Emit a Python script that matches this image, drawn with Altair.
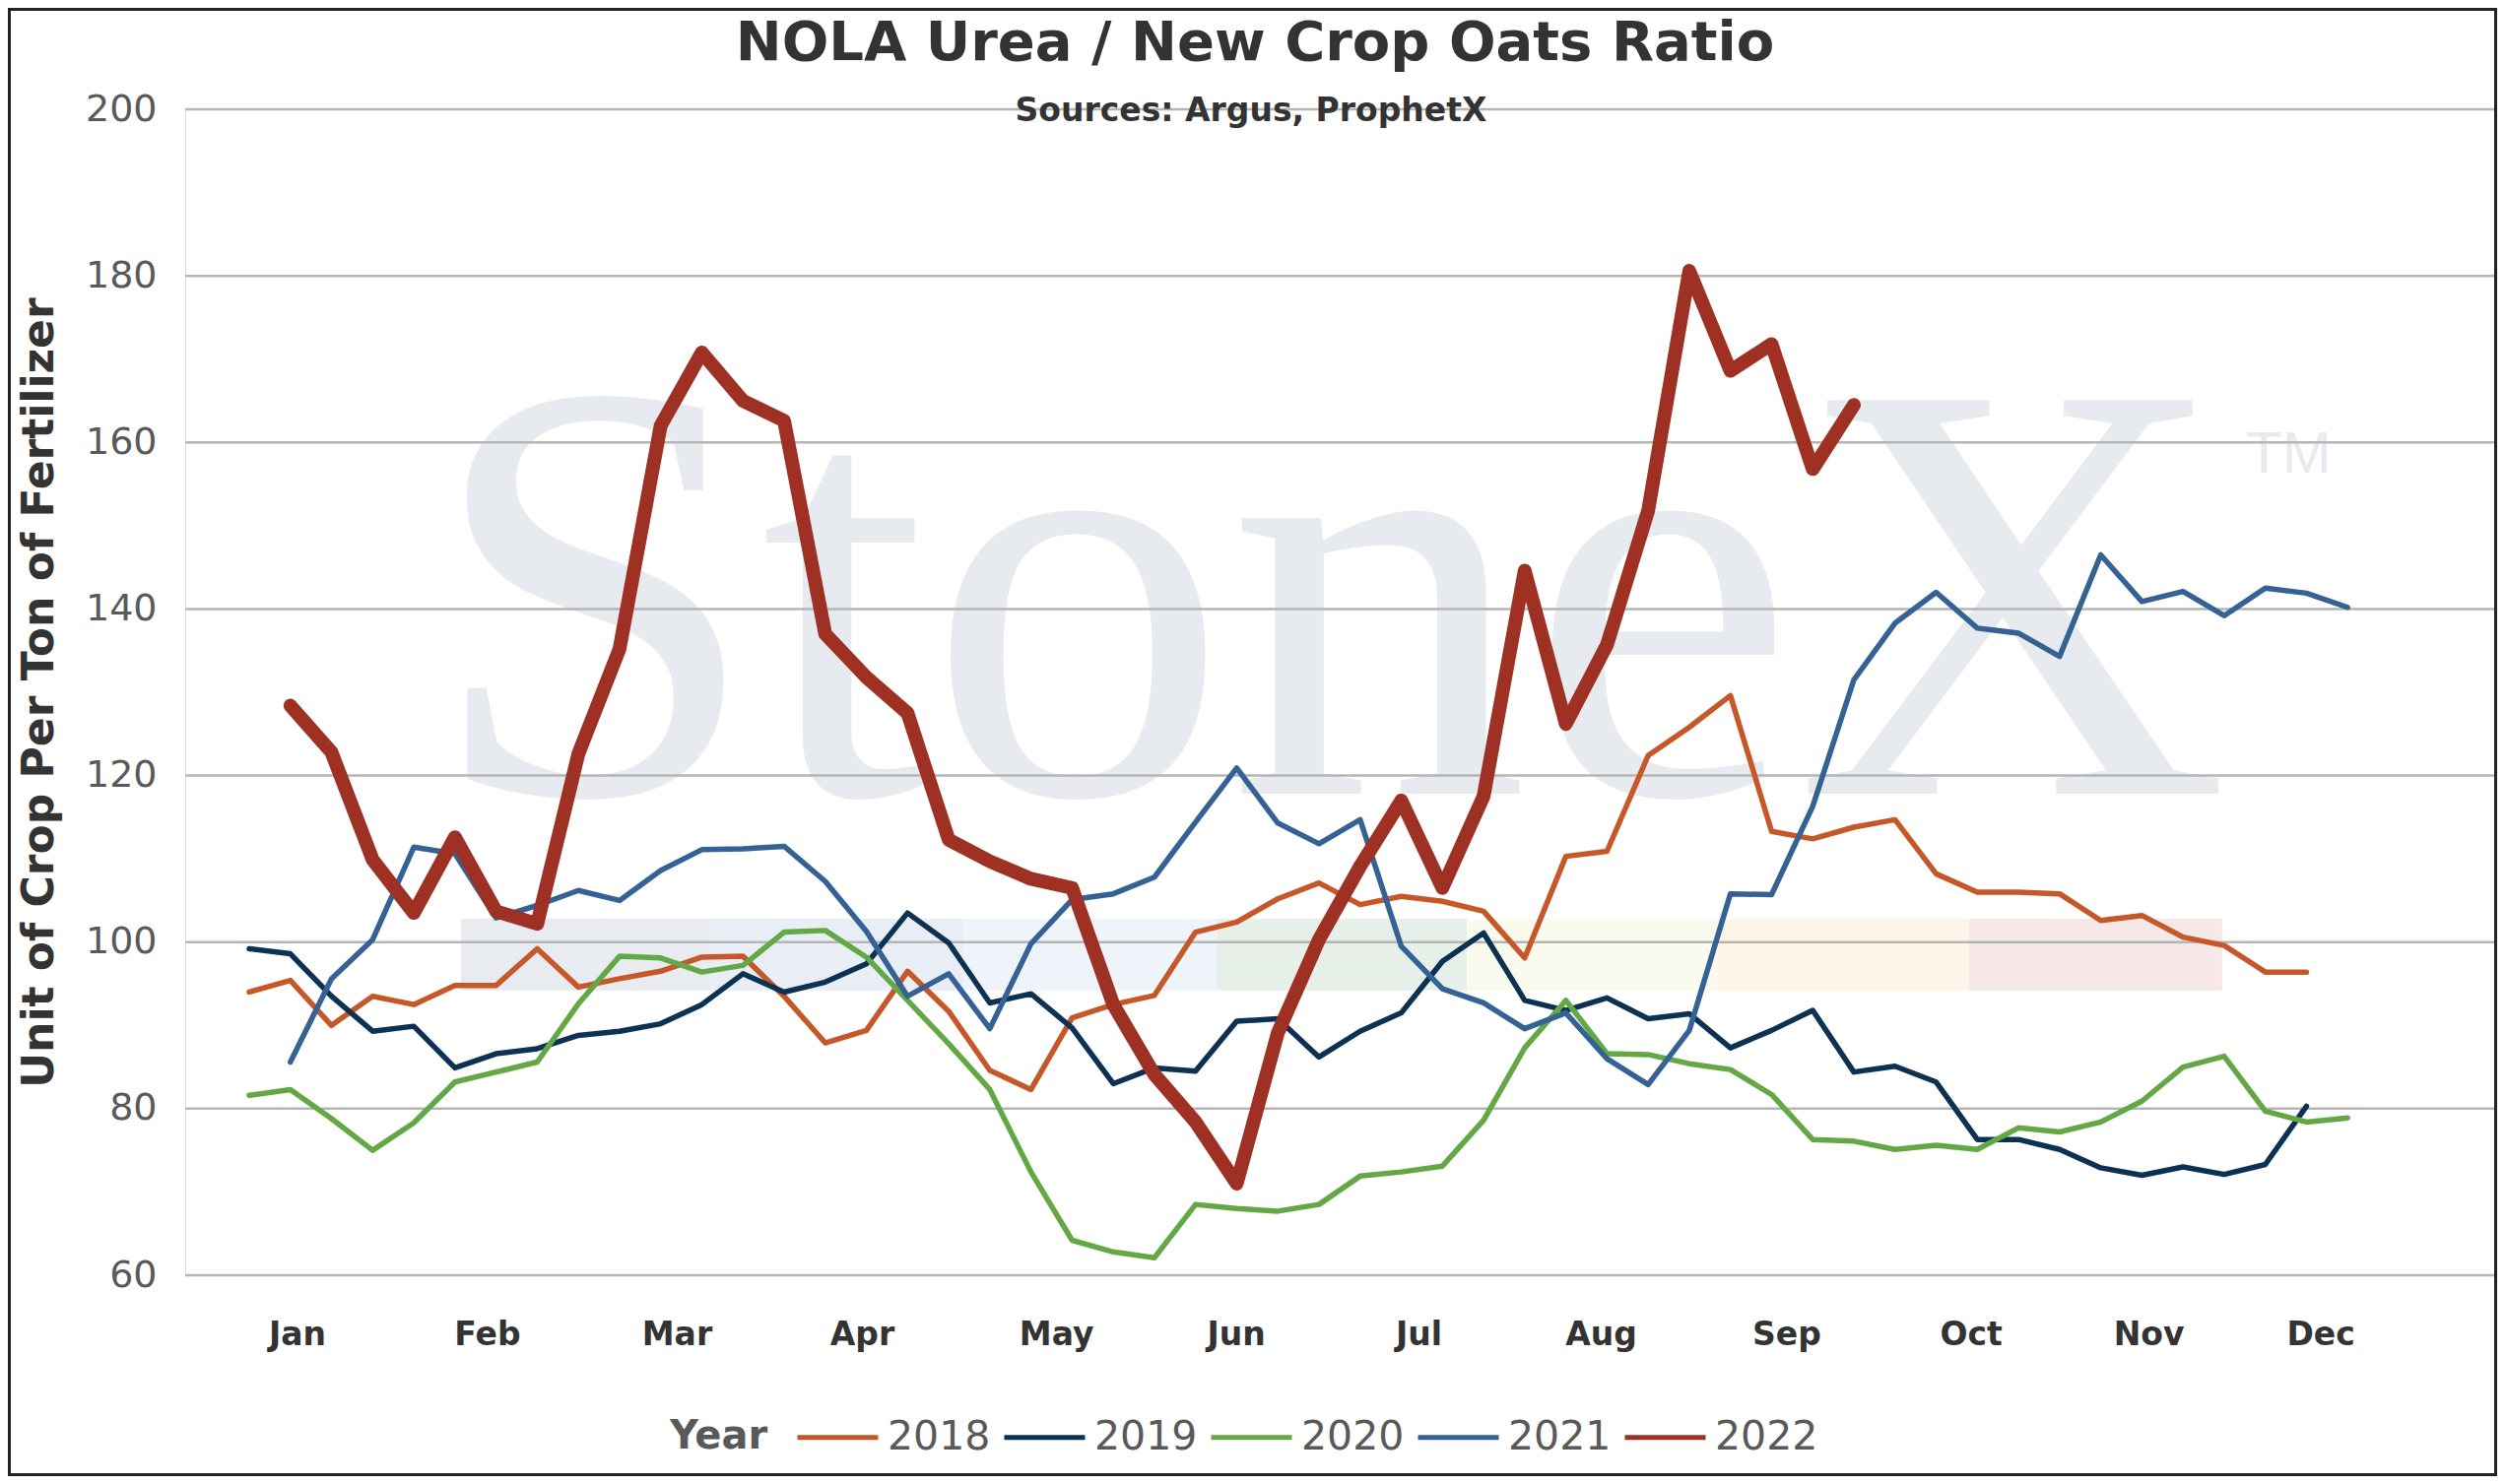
import altair as alt
import pandas as pd

# ---------------- data ----------------
years = ["2018", "2019", "2020", "2021", "2022"]
colors = ["#c55728", "#0c3152", "#63a845", "#346295", "#9e3124"]

# weekly values (week 1 = first point)
y2018 = [94.0, 95.4, 90.0, 93.5, 92.5, 94.8, 94.8, 99.2, 94.6, 95.6,
         96.5, 98.2, 98.3, 93.5, 87.9, 89.4, 96.5, 91.7, 84.6, 82.3,
         90.9, 92.5, 93.6, 101.2, 102.4, 105.2, 107.1, 104.5, 105.5, 104.9,
         103.7, 98.1, 110.3, 110.9, 122.4, 125.8, 129.6, 113.3, 112.4, 113.8,
         114.7, 108.2, 106.0, 106.0, 105.8, 102.6, 103.2, 100.6, 99.6, 96.4,
         96.4]
y2019 = [99.2, 98.6, 93.5, 89.3, 89.9, 84.9, 86.6, 87.2, 88.8, 89.3,
         90.2, 92.5, 96.2, 94.0, 95.2, 97.4, 103.5, 99.9, 92.7, 93.8,
         89.7, 83.0, 84.9, 84.5, 90.5, 90.8, 86.2, 89.3, 91.5, 97.7,
         101.1, 93.0, 91.8, 93.3, 90.8, 91.4, 87.3, 89.4, 91.8, 84.4,
         85.1, 83.2, 76.3, 76.3, 75.1, 72.9, 72.0, 73.0, 72.1, 73.3,
         80.3]
y2020 = [81.6, 82.3, 78.8, 75.0, 78.3, 83.2, 84.4, 85.6, 92.6, 98.3,
         98.1, 96.4, 97.2, 101.2, 101.4, 98.2, 93.0, 87.8, 82.3, 72.4,
         64.2, 62.8, 62.1, 68.5, 68.0, 67.7, 68.5, 71.9, 72.4, 73.1,
         78.6, 87.3, 93.0, 86.6, 86.5, 85.4, 84.7, 81.7, 76.3, 76.1,
         75.1, 75.6, 75.1, 77.7, 77.2, 78.4, 80.9, 85.0, 86.3, 79.7,
         78.4, 78.9]
# 2021 and 2022 start at week 2
y2021 = [85.6, 95.6, 100.3, 111.4, 110.6, 102.9, 104.4, 106.2, 105.0, 108.6,
         111.1, 111.2, 111.5, 107.3, 101.3, 93.5, 96.2, 89.6, 99.8, 105.1,
         105.8, 107.8, 114.4, 120.9, 114.3, 111.8, 114.7, 99.5, 94.4, 92.7,
         89.6, 91.5, 86.0, 82.9, 89.4, 105.8, 105.7, 116.3, 131.5, 138.3,
         142.0, 137.7, 137.1, 134.3, 146.5, 140.9, 142.1, 139.2, 142.5, 141.9,
         140.2]
y2022 = [128.4, 122.8, 109.9, 103.5, 112.6, 103.7, 102.2, 122.6, 135.2, 162.0,
         170.8, 165.0, 162.6, 137.0, 131.8, 127.5, 112.3, 109.7, 107.6, 106.5,
         92.5, 84.1, 78.4, 71.0, 89.1, 100.3, 109.1, 117.0, 106.5, 117.5,
         144.6, 126.2, 135.7, 151.8, 180.6, 168.6, 171.8, 156.8, 164.5]

series = {"2018": (1, y2018), "2019": (1, y2019), "2020": (1, y2020),
          "2021": (2, y2021), "2022": (2, y2022)}

months = ["Jan", "Feb", "Mar", "Apr", "May", "Jun",
          "Jul", "Aug", "Sep", "Oct", "Nov", "Dec"]
month_pos = [2.16, 6.78, 11.39, 15.89, 20.61, 24.98,
             29.42, 33.85, 38.36, 42.84, 47.16, 51.34]
y_ticks = [60, 80, 100, 120, 140, 160, 180, 200]

title_text = "NOLA Urea / New Crop Oats Ratio"
subtitle_text = "Sources: Argus, ProphetX"
legend_title = "Year"

rows = []
for yr, (start, vals) in series.items():
    for i, v in enumerate(vals):
        rows.append({"week": start + i, "value": v, "year": yr})
df = pd.DataFrame(rows)

# watermark colour bar (decoration)
band_edges = [6.15, 12.25, 18.36, 24.51, 30.59, 36.70, 42.80, 48.95]
band_colors = ["#e8ebf0", "#e9eef6", "#eff4fa", "#e6efe8", "#fafaee", "#fdf5e8", "#f7e8e8"]
band_df = pd.DataFrame({
    "x0": band_edges[:-1], "x1": band_edges[1:],
    "y0": [94.2] * 7, "y1": [102.8] * 7, "c": band_colors,
})

# ---------------- layout ----------------
W, H = 2346, 1184
PAD = {"left": 180, "top": 103, "right": 1, "bottom": 204}
FONT = "DejaVu Sans"

xscale = alt.Scale(domain=[-0.556, 55.61], nice=False, zero=False)
yscale = alt.Scale(domain=[60, 200], nice=False, zero=False)

label_expr = "[" + ",".join(f"'{m}'" for m in months) + "][indexof([" + \
    ",".join(str(p) for p in month_pos) + "], datum.value)]"

xaxis = alt.Axis(values=month_pos, labelExpr=label_expr, grid=False, domain=False,
                 ticks=False, labelFont=FONT, labelFontSize=33, labelFontWeight="bold",
                 labelColor="#333333", labelPadding=44, labelOverlap=False,
                 labelFlush=False, title=None)
yaxis = alt.Axis(values=y_ticks, grid=False, domain=False, ticks=False,
                 labelFont=FONT, labelFontSize=38, labelColor="#595959",
                 labelPadding=29, title="Unit of Crop Per Ton of Fertilizer",
                 titleFont=FONT, titleFontSize=44, titleFontWeight="bold",
                 titleColor="#333333", titleX=-126, titleY=H / 2)

color_scale = alt.Scale(domain=years, range=colors)
legend = alt.Legend(orient="none", legendX=619, legendY=1305, direction="horizontal",
                    title=None,
                    labelFont=FONT, labelFontSize=41, labelColor="#595959",
                    labelOffset=7, symbolType="stroke", symbolSize=6724,
                    symbolStrokeWidth=5, columnPadding=3, padding=0)


def text_layer(txt, size, weight, color, x, y, align="center", font=FONT):
    return alt.Chart(pd.DataFrame({"t": [txt]})).mark_text(
        font=font, fontSize=size, fontWeight=weight, color=color,
        align=align, baseline="alphabetic"
    ).encode(text="t:N", x=alt.value(x), y=alt.value(y))


watermark = text_layer("StoneX", 610, "normal", "#e7eaef", 245, 695, "left", "Liberation Serif")
tm = text_layer("TM", 60, "normal", "#e7eaef", 2092, 369, "left", "Liberation Sans")
title = text_layer(title_text, 56, "bold", "#333333", 1086, -50)
subtitle = text_layer(subtitle_text, 33, "bold", "#333333", 1082, 12)
year_lbl = text_layer(legend_title, 40, "bold", "#595959", 492, 1360, "left")

band = alt.Chart(band_df).mark_rect().encode(
    x=alt.X("x0:Q", scale=xscale, axis=xaxis), x2="x1:Q",
    y=alt.Y("y0:Q", scale=yscale, axis=yaxis), y2="y1:Q",
    fill=alt.Fill("c:N", scale=None, legend=None),
)

grid = alt.Chart(pd.DataFrame({"tick": y_ticks})).mark_rule(
    color="#b5b5b5", strokeWidth=2.5
).encode(y=alt.Y("tick:Q", scale=yscale, axis=yaxis), x=alt.value(0), x2=alt.value(W))

base_lines = alt.Chart(df[df["year"] != "2022"]).mark_line(
    strokeWidth=5.5, strokeCap="round", strokeJoin="round"
).encode(
    x=alt.X("week:Q", scale=xscale, axis=xaxis),
    y=alt.Y("value:Q", scale=yscale, axis=yaxis),
    color=alt.Color("year:N", scale=color_scale, legend=legend),
)

line22 = alt.Chart(df[df["year"] == "2022"]).mark_line(
    strokeWidth=14, strokeCap="round", strokeJoin="round"
).encode(
    x=alt.X("week:Q", scale=xscale, axis=xaxis),
    y=alt.Y("value:Q", scale=yscale, axis=yaxis),
    color=alt.Color("year:N", scale=color_scale, legend=legend),
)

border = alt.Chart(pd.DataFrame({"a": [0]})).mark_rect(
    fill=None, stroke="#222222", strokeWidth=3
).encode(x=alt.value(-PAD["left"] + 1.5), x2=alt.value(W + PAD["right"] - 1.5),
         y=alt.value(-PAD["top"] + 1.5), y2=alt.value(H + PAD["bottom"] - 1.5))

chart = alt.layer(watermark, tm, band, grid, base_lines, line22,
                  title, subtitle, year_lbl, border).properties(
    width=W, height=H, padding=PAD,
    autosize=alt.AutoSizeParams(type="none"),
).configure_view(stroke=None).configure(background="white")

chart.save("out.html", embed_options={"renderer": "svg", "actions": False})
